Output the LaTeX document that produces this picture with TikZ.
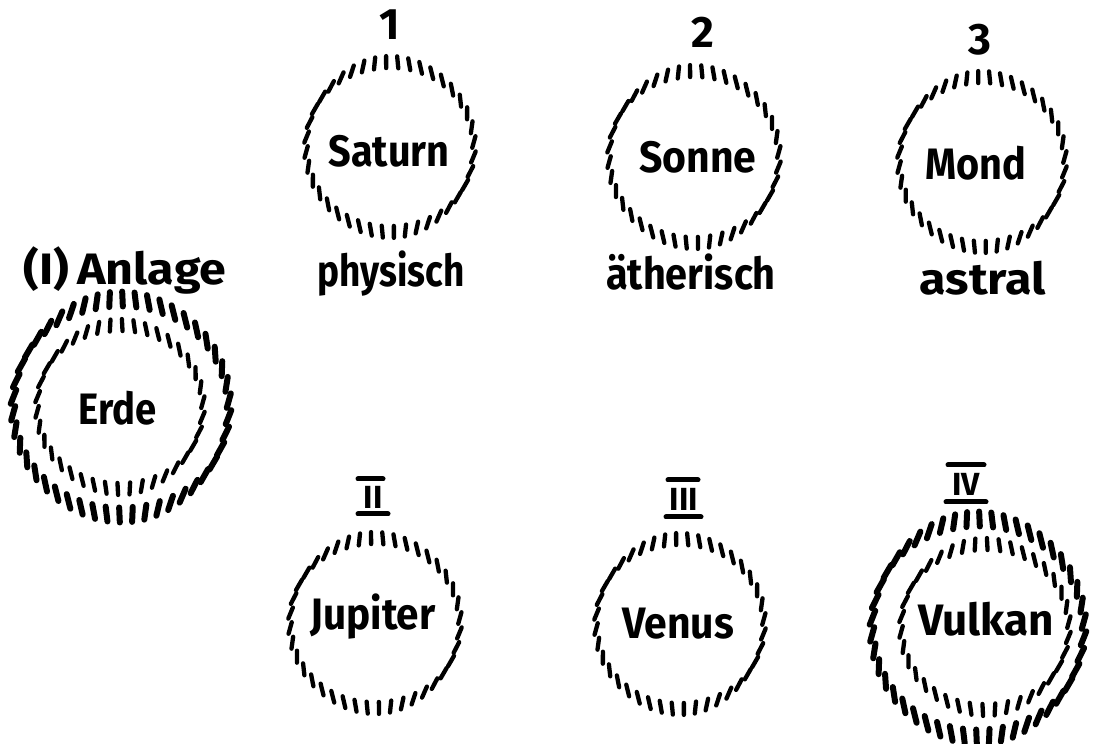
\documentclass[tikz,border=0pt]{standalone}
\usepackage{fontspec}
\setmainfont{Fira Sans}
\usetikzlibrary{calc}
\newcommand\hatchring[6]{% center name, rx, ry, n, stroke length, stroke width
  \foreach \k in {1,...,#4}{%
    \pgfmathsetmacro\tb{360/#4*\k+3}%
    \pgfmathsetmacro\tha{\tb+3.5*sin(2*\tb)}%
    \pgfmathsetmacro\dda{82-10*cos(2*\tha)+20*sin(2*\tha)}%
    \pgfmathsetmacro\lla{#5/2}%
    \pgfmathsetmacro\px{#2*cos(\tha)}%
    \pgfmathsetmacro\py{#3*sin(\tha)}%
    \pgfmathsetmacro\hx{\lla*cos(\dda)}%
    \pgfmathsetmacro\hy{\lla*sin(\dda)}%
    \draw[line width=#6, line cap=round]
      ($(#1)+(\px+\hx,\py+\hy)$) -- ($(#1)+(\px-\hx,\py-\hy)$);
  }}
\newcommand\hw[2]{\scalebox{#1}[1]{#2}}
\tikzset{
  lbl/.style={font=\fontsize{44}{50}\selectfont\bfseries, inner sep=0pt, anchor=base},
  roman/.style={font=\fontsize{32}{36}\selectfont\bfseries, inner sep=0pt},
  bar/.style={line width=5pt, line cap=round}
}
\begin{document}
\begin{tikzpicture}[x=1pt,y=1pt]
\useasboundingbox[fill=white] (0,0) rectangle (1093,744);
% ring centres
\coordinate (cSat) at (390,597);
\coordinate (cSon) at (694,587);
\coordinate (cMon) at (982,582);
\coordinate (cErdO) at (121,337);
\coordinate (cErdI) at (120,337);
\coordinate (cJup) at (375,121);
\coordinate (cVen) at (680,120);
\coordinate (cVulO) at (978,116);
\coordinate (cVulI) at (985,117);
% rings
\hatchring{cSat}{84}{85}{40}{12}{4.3pt}
\hatchring{cSon}{85}{86}{40}{12}{4.3pt}
\hatchring{cMon}{83}{85}{40}{12}{4.3pt}
\hatchring{cErdO}{108}{108}{46}{15}{6pt}
\hatchring{cErdI}{83}{82}{38}{12}{4.3pt}
\hatchring{cJup}{85}{85}{40}{12}{4.3pt}
\hatchring{cVen}{84}{85}{40}{12}{4.3pt}
\hatchring{cVulO}{106}{109}{46}{15}{6pt}
\hatchring{cVulI}{84}{83}{38}{12}{4.3pt}
% numbers
\node[lbl] (n1) at (390,704) {1};
\node[lbl] (n2) at (703,696) {2};
\node[lbl] (n3) at (980,689) {3};
% planet names
\node[lbl] (sat) at (389,577) {\hw{0.90}{Saturn}};
\node[lbl] (son) at (698,571) {\hw{0.93}{Sonne}};
\node[lbl] (mon) at (976,564) {\hw{0.90}{Mond}};
\node[lbl] (erd) at (118,319) {\hw{0.87}{Erde}};
\node[lbl] (jup) at (373,114) {\hw{0.92}{Jupiter}};
\node[lbl] (ven) at (678,105) {\hw{0.93}{Venus}};
\node[lbl] (vul) at (986,108) {\hw{1.0}{Vulkan}};
% qualities
\node[lbl] (phy) at (391,457) {\hw{0.84}{physisch}};
\node[lbl] (aet) at (691,454) {\hw{0.90}{ätherisch}};
\node[lbl] (ast) at (983,449) {\hw{1.10}{astral}};
\node[lbl] (anl) at (125,459) {\hw{1.10}{(I)\,Anlage}};
% roman numerals
\node[roman] (r2) at (373,247) {II};
\node[roman] (r3) at (684,245) {III};
\node[roman] (r4) at (966,260) {IV};
\draw[bar] ($(r2.center)+(-15,18)$) -- ($(r2.center)+(10,18)$);
\draw[bar] ($(r2.center)+(-15,-17)$) -- ($(r2.center)+(15,-17)$);
\draw[bar] ($(r3.center)+(-16,19)$) -- ($(r3.center)+(14,19)$);
\draw[bar] ($(r3.center)+(-18,-18)$) -- ($(r3.center)+(17,-18)$);
\draw[bar] ($(r4.center)+(-18,19)$) -- ($(r4.center)+(18,19)$);
\draw[bar] ($(r4.center)+(-20,-18)$) -- ($(r4.center)+(20,-18)$);
\end{tikzpicture}
\end{document}
